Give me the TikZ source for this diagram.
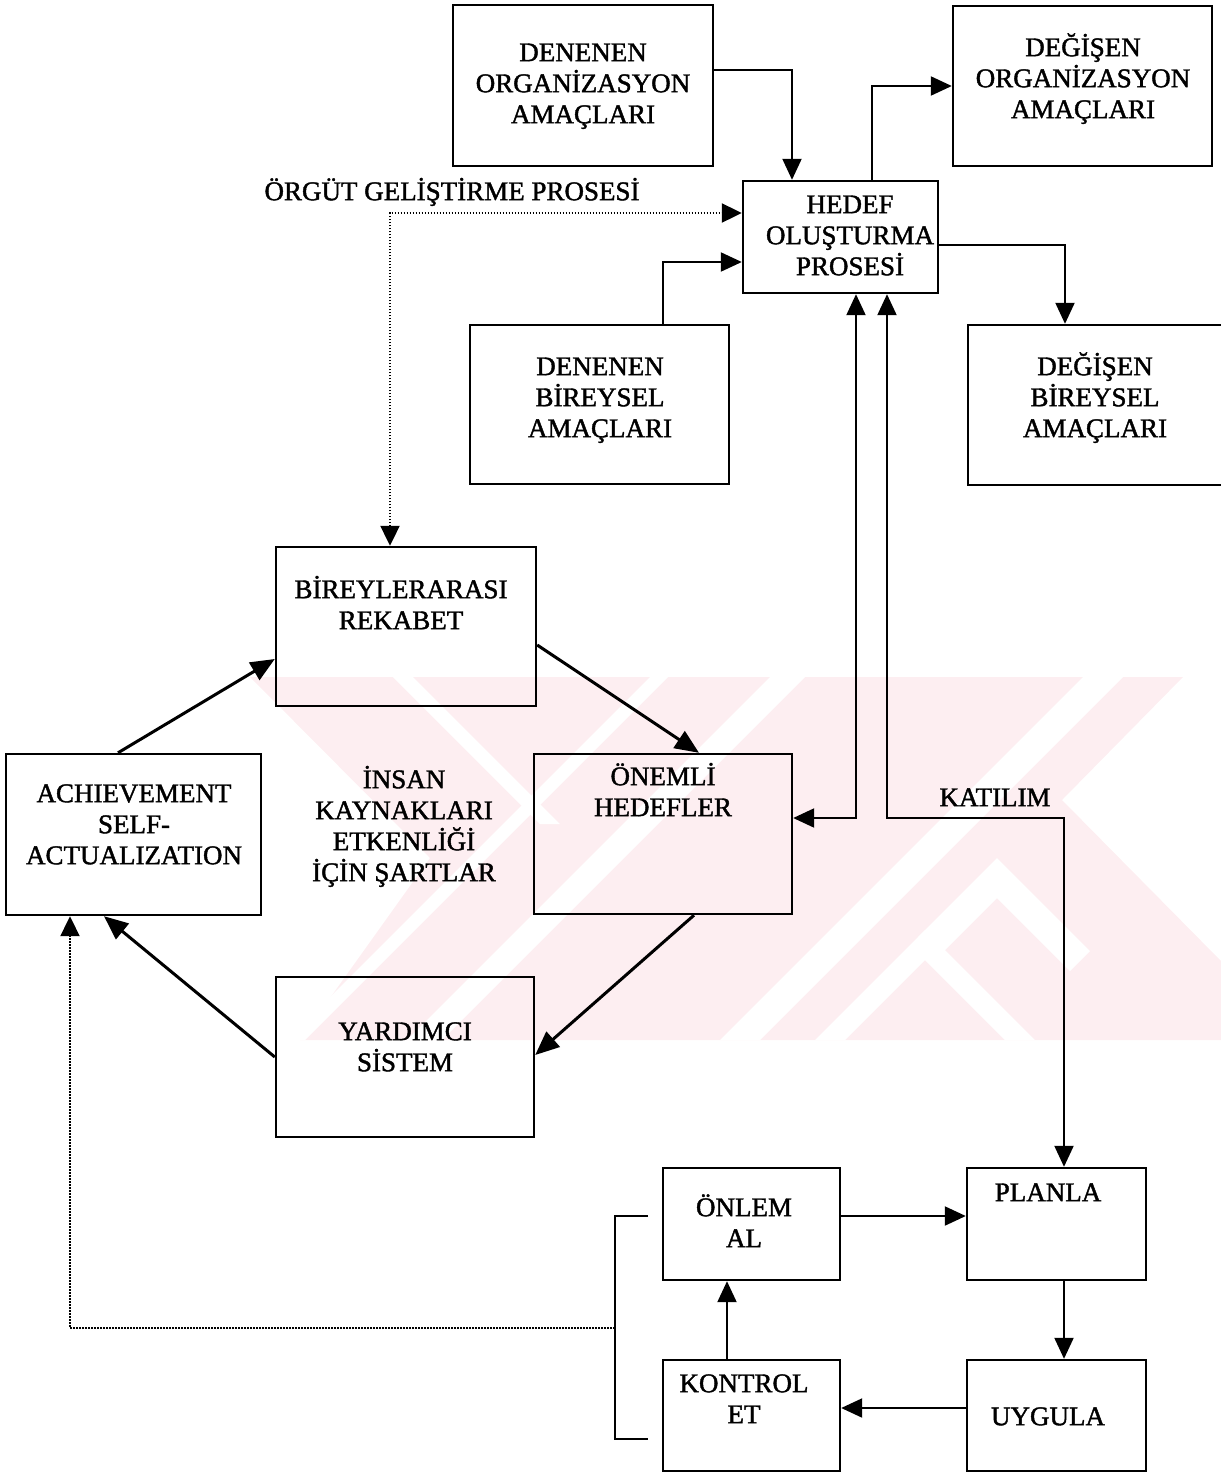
\documentclass[tikz,border=0pt]{standalone}
\usepackage{fontspec}
\setmainfont{Liberation Serif}[FakeBold=1.5]
\usetikzlibrary{arrows.meta}
\definecolor{wm}{RGB}{253,238,241}
\tikzset{
  box/.style={draw, line width=2.4pt, inner sep=0pt, rectangle},
  txt/.style={inner sep=0pt, anchor=north, align=center, font=\fontsize{27}{31}\selectfont},
  con/.style={line width=2.1pt, -{Triangle[length=21pt,width=19pt]}},
  bicon/.style={line width=2.1pt, {Triangle[length=21pt,width=19pt]}-{Triangle[length=21pt,width=19pt]}},
  dcon/.style={line width=3pt, -{Triangle[length=24pt,width=20pt]}},
  dots/.style={line width=2.1pt, dash pattern=on 1.6pt off 1.4pt},
  plain/.style={line width=2.1pt},
  wmark/.style={fill=wm, draw=none},
  wgap/.style={fill=white, draw=none}
}
\newcommand{\Fl}{\rule{0pt}{24pt}}
\begin{document}
\begin{tikzpicture}[x=1pt,y=-1pt]
\useasboundingbox (0,0) rectangle (1221,1473);

% faint watermark
\begin{scope}
  \clip (0,677) rectangle (1221,1040);
  \fill[wmark] (250,677) -- (1183,677) -- (1062,800) -- (1221,961) -- (1221,1040) -- (300,1040) -- (430,858) -- cycle;
  \fill[wgap] (393,677) -- (413,677) -- (560,824) -- (540,824) -- cycle;
  \fill[wgap] (650,677) -- (668,677) -- (305,1040) -- (287,1040) -- cycle;
  \fill[wgap] (770,677) -- (805,677) -- (442,1040) -- (407,1040) -- cycle;
  \fill[wgap] (1083,677) -- (1123,677) -- (760,1040) -- (720,1040) -- cycle;
  \fill[wgap] (997,858) -- (1090,951) -- (1070,971) -- (997,898) -- (938,957) -- (918,937) -- cycle;
  \fill[wgap] (925,930) -- (1035,1040) -- (1005,1040) -- (925,960) -- (845,1040) -- (815,1040) -- cycle;
\end{scope}

% boxes
\node[box, minimum width=260pt, minimum height=161pt] (org1) at (583,85.5) {};
\node[box, minimum width=259pt, minimum height=160pt] (org2) at (1082.5,86) {};
\node[box, minimum width=195pt, minimum height=112pt] (hedef) at (840.5,237) {};
\node[box, minimum width=259pt, minimum height=159pt] (ind1) at (599.5,404.5) {};
\node[box, minimum width=264pt, minimum height=160pt] (ind2) at (1100,405) {};
\node[box, minimum width=260pt, minimum height=159pt] (birey) at (406,626.5) {};
\node[box, minimum width=255pt, minimum height=161pt] (ach) at (133.5,834.5) {};
\node[box, minimum width=258pt, minimum height=160pt] (onemli) at (663,834) {};
\node[box, minimum width=258pt, minimum height=160pt] (yard) at (405,1057) {};
\node[box, minimum width=177pt, minimum height=112pt] (onlem) at (751.5,1224) {};
\node[box, minimum width=179pt, minimum height=112pt] (planla) at (1056.5,1224) {};
\node[box, minimum width=177pt, minimum height=111pt] (kontrol) at (751.5,1415.5) {};
\node[box, minimum width=179pt, minimum height=111pt] (uygula) at (1056.5,1415.5) {};

% texts (north = first cap-centre - 15)
\node[txt] (org1t) at (583,37) {\Fl DENENEN\\ORGANİZASYON\\AMAÇLARI};
\node[txt] (org2t) at (1083,32) {\Fl DEĞİŞEN\\ORGANİZASYON\\AMAÇLARI};
\node[txt] (hedeft) at (850,189) {\Fl HEDEF\\OLUŞTURMA\\PROSESİ};
\node[txt] (ind1t) at (600,351) {\Fl DENENEN\\BİREYSEL\\AMAÇLARI};
\node[txt] (ind2t) at (1095,351) {\Fl DEĞİŞEN\\BİREYSEL\\AMAÇLARI};
\node[txt] (bireyt) at (401,574) {\Fl BİREYLERARASI\\REKABET};
\node[txt] (acht) at (134,778) {\Fl ACHIEVEMENT\\SELF-\\ACTUALIZATION};
\node[txt] (insan) at (404,764) {\Fl İNSAN\\KAYNAKLARI\\ETKENLİĞİ\\İÇİN ŞARTLAR};
\node[txt] (onemlit) at (663,761) {\Fl ÖNEMLİ\\HEDEFLER};
\node[txt] (yardt) at (405,1016) {\Fl YARDIMCI\\SİSTEM};
\node[txt] (onlemt) at (744,1192) {\Fl ÖNLEM\\AL};
\node[txt] (planlat) at (1048,1177) {\Fl PLANLA};
\node[txt] (kontrolt) at (744,1368) {\Fl KONTROL\\ET};
\node[txt] (uygulat) at (1048,1401) {\Fl UYGULA};
\node[txt] (orgut) at (452,176) {\Fl ÖRGÜT GELİŞTİRME PROSESİ};
\node[txt] (katilim) at (995,782) {\Fl KATILIM};

% helper coordinates
\coordinate (kat) at (1064,818);
\coordinate (brT) at (648,1216);
\coordinate (brB) at (648,1439);
\coordinate (brM) at (615,1328);

% top connectors
\draw[con] (org1.east |- 0,70) -| (hedef.north -| 792,0);
\draw[con] (hedef.north -| 872,0) |- (org2.west |- 0,86);
\draw[con] (hedef.east |- 0,245) -| (ind2.north -| 1065,0);
\draw[con] (ind1.north -| 663,0) |- (hedef.west |- 0,262);
\draw[dots, {Triangle[length=20pt,width=19pt]}-{Triangle[length=20pt,width=19pt]}]
  (birey.north -| 390,0) |- (hedef.west |- 0,213);

% hedef <-> onemli, hedef <-> planla
\draw[bicon] (hedef.south -| 856,0) |- (onemli.east |- 0,818);
\draw[bicon] (hedef.south -| 887,0) |- (kat) -- (planla.north -| kat);

% cycle of diagonals
\draw[dcon] (birey.east |- 0,645) -- (onemli.north -| 699,0);
\draw[dcon] (onemli.south -| 694,0) -- (yard.east |- 0,1055);
\draw[dcon] (yard.west |- 0,1057) -- (ach.south -| 104,0);
\draw[dcon] (ach.north -| 118,0) -- (birey.west |- 0,659);

% lower loop
\draw[con] (onlem.east |- 0,1216) -- (planla.west |- 0,1216);
\draw[con] (planla.south -| 1064,0) -- (uygula.north -| 1064,0);
\draw[con] (uygula.west |- 0,1408) -- (kontrol.east |- 0,1408);
\draw[con] (kontrol.north -| 727,0) -- (onlem.south -| 727,0);

% bracket and dotted feedback
\draw[plain] (brT) -- (brT -| brM) |- (brB);
\draw[dots, -{Triangle[length=20pt,width=19pt]}] (brM) -| (ach.south -| 70,0);
\end{tikzpicture}
\end{document}
